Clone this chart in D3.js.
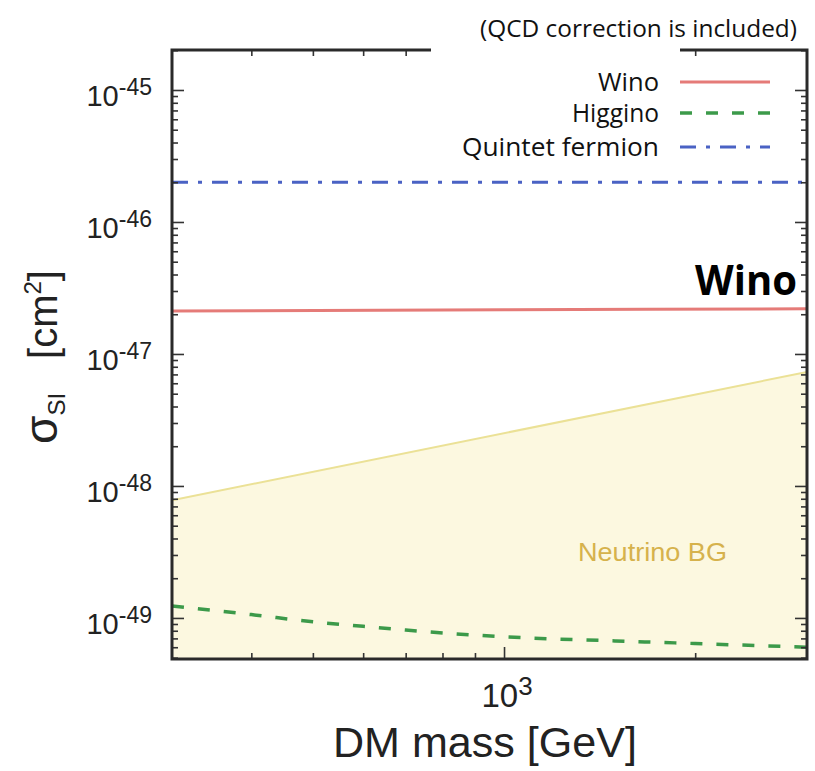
<!DOCTYPE html>
<html><head><meta charset="utf-8">
<script src="https://cdn.jsdelivr.net/npm/d3@7"></script>
<style>body{margin:0;background:#fff}</style>
</head><body>
<svg id="c" width="815" height="771"></svg>
<script>
// ---- data ----
const xDomain = [300, 3000];
const yDomain = [Math.pow(10, -49.311), Math.pow(10, -44.697)];
const xMajorTicks = [1000];
const xMinorTicks = [400, 500, 600, 700, 800, 900, 2000];
const yMajorExps = [-49, -48, -47, -46, -45];
const xTickBase = ["10"];
const xTickExp = ["3"];

const neutrinoMass = [300, 3000];
const neutrinoSigma = [7.8e-49, 7.3e-48];
const winoMass = [300, 1000, 3000];
const winoSigma = [2.12e-47, 2.16e-47, 2.2e-47];
const higginoMass = [300, 400, 500, 600, 700, 1000, 1500, 2000, 3000];
const higginoSigma = [1.23e-49, 1.06e-49, 9.35e-50, 8.65e-50, 8.1e-50, 7.2e-50, 6.7e-50, 6.4e-50, 6.0e-50];
const quintetMass = [300, 3000];
const quintetSigma = [2.0e-46, 2.0e-46];
const legendLabels = ["Wino", "Higgino", "Quintet fermion"];

// ---- layout ----
const L = 172, R = 807, T = 50, B = 659;
const svg = d3.select("#c");
const x = d3.scaleLog().domain(xDomain).range([L, R]);
const y = d3.scaleLog().domain(yDomain).range([B, T]);

const yMinor = [];
for (let d = -50; d <= -45; d++) for (let k = 2; k <= 9; k++) {
  const v = k * Math.pow(10, d);
  if (v > yDomain[0] && v < yDomain[1]) yMinor.push(v);
}
const yMajor = yMajorExps.map(e => Math.pow(10, e));

svg.append("defs").append("clipPath").attr("id", "clip")
  .append("rect").attr("x", L).attr("y", T).attr("width", R - L).attr("height", B - T);
const plot = svg.append("g").attr("clip-path", "url(#clip)");

const zip = (a, b) => a.map((m, i) => [m, b[i]]);

// neutrino BG area
plot.append("path").datum(zip(neutrinoMass, neutrinoSigma))
  .attr("d", d3.area().x(d => x(d[0])).y0(B + 5).y1(d => y(d[1])))
  .attr("fill", "#fcf8e0");
plot.append("path").datum(zip(neutrinoMass, neutrinoSigma))
  .attr("d", d3.line().x(d => x(d[0])).y(d => y(d[1])))
  .attr("fill", "none").attr("stroke", "#ebe196").attr("stroke-width", 2);

const line = d3.line().x(d => x(d[0])).y(d => y(d[1])).curve(d3.curveMonotoneX);
plot.append("path").datum(zip(higginoMass, higginoSigma)).attr("d", line)
  .attr("fill", "none").attr("stroke", "#3c9a4a").attr("stroke-width", 3.5).attr("stroke-dasharray", "12,14");
plot.append("path").datum(zip(winoMass, winoSigma)).attr("d", line)
  .attr("fill", "none").attr("stroke", "#e57b78").attr("stroke-width", 3);
plot.append("path").datum(zip(quintetMass, quintetSigma)).attr("d", line)
  .attr("fill", "none").attr("stroke", "#4a62c4").attr("stroke-width", 3).attr("stroke-dasharray", "16,10,4,10");

// ---- axes (inward ticks on all four sides) ----
function styleAxis(g) {
  g.select(".domain").remove();
  g.selectAll(".tick line").attr("stroke", "#333").attr("stroke-width", 1.6);
  g.selectAll(".tick text").remove();
}
const axes = [
  [d3.axisBottom(x), `translate(0,${B})`, xMinorTicks, xMajorTicks],
  [d3.axisTop(x), `translate(0,${T})`, xMinorTicks, xMajorTicks],
  [d3.axisLeft(y), `translate(${L},0)`, yMinor, yMajor],
  [d3.axisRight(y), `translate(${R},0)`, yMinor, yMajor]
];
axes.forEach(([ax, tr, minor, major]) => {
  svg.append("g").attr("transform", tr).call(ax.tickValues(minor).tickSize(-6).tickFormat("")).call(styleAxis);
  svg.append("g").attr("transform", tr).call(ax.tickValues(major).tickSize(-12).tickFormat("")).call(styleAxis);
});

// frame
svg.append("rect").attr("x", L).attr("y", T).attr("width", R - L).attr("height", B - T)
  .attr("fill", "none").attr("stroke", "#2a2a2a").attr("stroke-width", 3);

// y tick labels
const yl = svg.append("g").attr("font-family", "'Liberation Sans', Arial, sans-serif").attr("fill", "#222");
yMajorExps.forEach(e => {
  const t = yl.append("text").attr("x", L - 20).attr("y", y(Math.pow(10, e)) + 16).attr("text-anchor", "end");
  t.append("tspan").attr("font-size", 29).text("10");
  t.append("tspan").attr("font-size", 23).attr("dy", -11).text(String(e));
});
// x tick labels
xMajorTicks.forEach((v, i) => {
  const t = yl.append("text").attr("x", x(v) + 3).attr("y", 707).attr("text-anchor", "middle");
  t.append("tspan").attr("font-size", 33).text(xTickBase[i]);
  t.append("tspan").attr("font-size", 26).attr("dy", -12).text(xTickExp[i]);
});

// axis titles
yl.append("text").attr("x", 485).attr("y", 757).attr("text-anchor", "middle")
  .attr("font-size", 42).attr("textLength", 304).attr("lengthAdjust", "spacingAndGlyphs")
  .text("DM mass [GeV]");
const yt = yl.append("text").attr("transform", "translate(57,357) rotate(-90)").attr("text-anchor", "middle");
yt.append("tspan").attr("font-size", 46).text("σ");
yt.append("tspan").attr("font-size", 24).attr("dy", 8).text("SI");
yt.append("tspan").attr("font-size", 40).attr("dy", -8).attr("dx", 34).text("[cm");
yt.append("tspan").attr("font-size", 24).attr("dy", -16).text("2");
yt.append("tspan").attr("font-size", 40).attr("dy", 16).text("]");

// neutrino label
svg.append("text").attr("x", 578).attr("y", 561).attr("font-family", "'Liberation Sans', Arial, sans-serif")
  .attr("font-size", 26).attr("fill", "#d6b24c").attr("textLength", 149).attr("lengthAdjust", "spacingAndGlyphs")
  .text("Neutrino BG");

// legend box (white, covers frame)
svg.append("rect").attr("x", 431).attr("y", 42).attr("width", 249).attr("height", 137).attr("fill", "#fff");
const legY = [82, 113, 147];
const legW = [61, 87, 197];
const legStyles = [
  {c: "#e57b78", w: 3, d: null},
  {c: "#3c9a4a", w: 3.5, d: "12,14"},
  {c: "#4a62c4", w: 3, d: "16,10,4,10"}
];
const leg = svg.append("g").attr("font-family", "'Open Sans', sans-serif").attr("fill", "#111");
legendLabels.forEach((lab, i) => {
  leg.append("text").attr("x", 659).attr("y", legY[i] + 9).attr("text-anchor", "end")
    .attr("font-size", 25).attr("textLength", legW[i]).attr("lengthAdjust", "spacingAndGlyphs").text(lab);
  leg.append("line").attr("x1", 680).attr("x2", 770).attr("y1", legY[i]).attr("y2", legY[i])
    .attr("stroke", legStyles[i].c).attr("stroke-width", legStyles[i].w)
    .attr("stroke-dasharray", legStyles[i].d);
});

// title & Wino label
leg.append("text").attr("x", 797).attr("y", 37).attr("text-anchor", "end").attr("font-size", 24)
  .attr("textLength", 317).attr("lengthAdjust", "spacingAndGlyphs").text("(QCD correction is included)");
leg.append("text").attr("x", 797).attr("y", 295).attr("text-anchor", "end").attr("font-size", 41)
  .attr("font-weight", "bold").attr("fill", "#000").attr("textLength", 102).attr("lengthAdjust", "spacingAndGlyphs")
  .text("Wino");
</script>
</body></html>
